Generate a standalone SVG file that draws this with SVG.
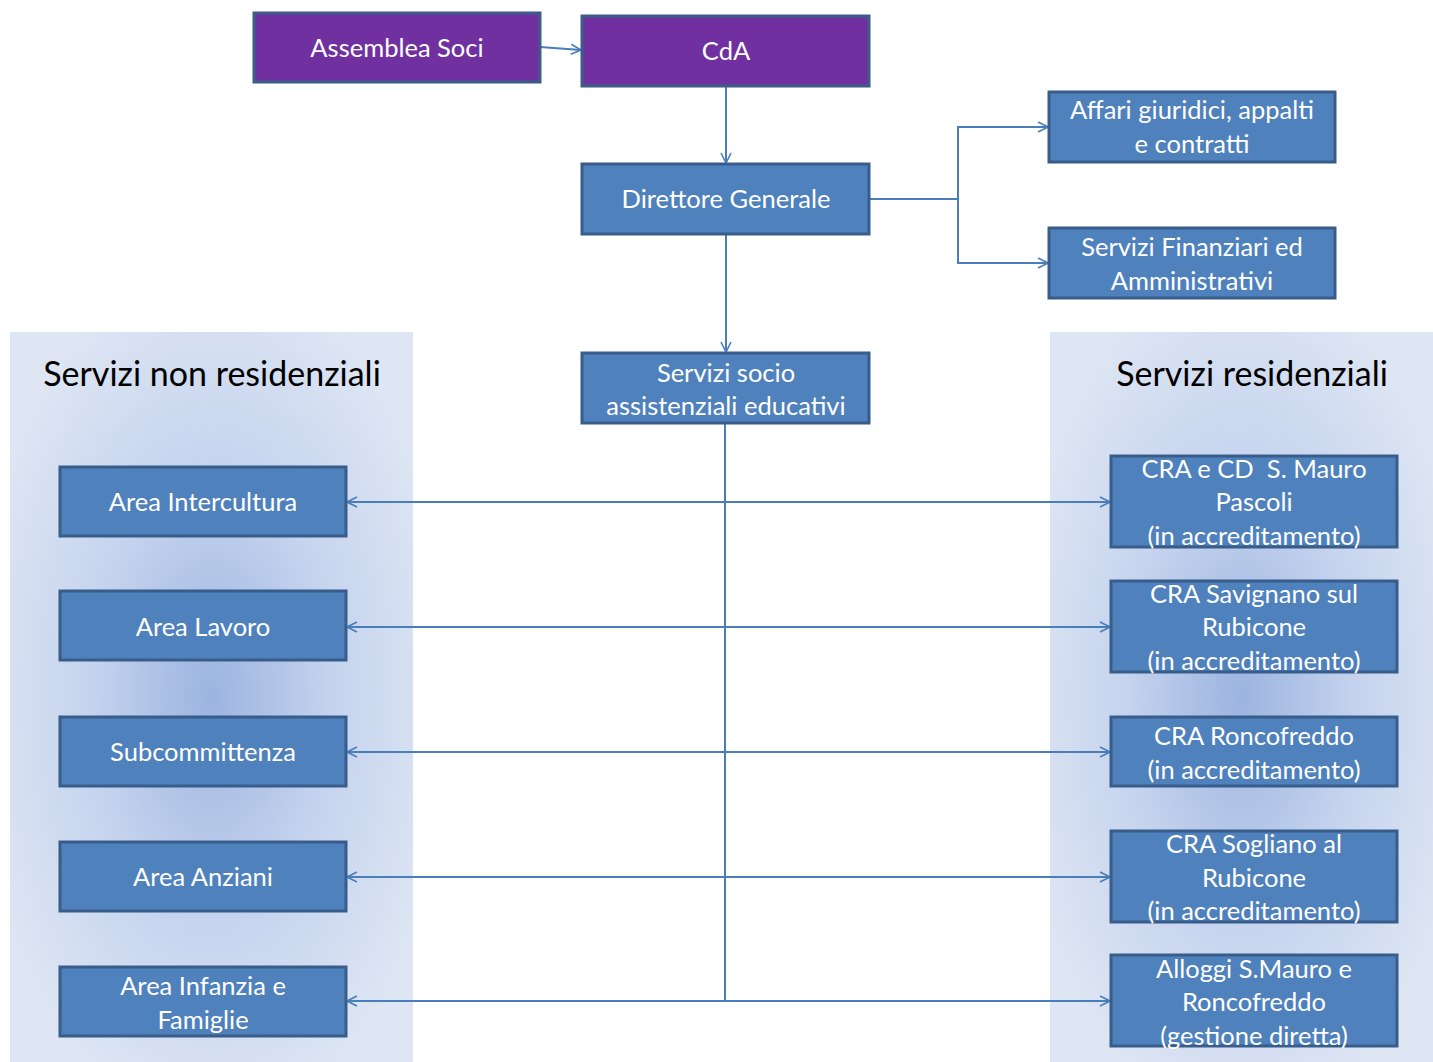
<svg xmlns="http://www.w3.org/2000/svg" width="1433" height="1062" viewBox="0 0 1433 1062">
<style>
.p{fill:#7030a0;stroke:#3c5d87;stroke-width:3}
.b{fill:#4f81bd;stroke:#385d8a;stroke-width:3}
.t{font-family:Lato,"Open Sans",sans-serif;font-size:25.5px;fill:#fff;text-anchor:middle;white-space:pre}
.h{font-family:Lato,"Open Sans",sans-serif;font-size:34px;fill:#000;text-anchor:middle}
.c{fill:none;stroke:#4a7ebb;stroke-width:2}
</style>
<defs>
<radialGradient id="g" cx="0.5" cy="0.5" r="0.6">
<stop offset="0" stop-color="#9cb4e0"/>
<stop offset="0.5" stop-color="#c5d3ee"/>
<stop offset="1" stop-color="#dee6f3"/>
</radialGradient>
<marker id="a" viewBox="0 0 12 12" refX="11" refY="6" markerWidth="12" markerHeight="12" markerUnits="userSpaceOnUse" orient="auto-start-reverse">
<path d="M1,1 L11,6 L1,11" fill="none" stroke="#4a7ebb" stroke-width="1.6"/>
</marker>
</defs>
<rect x="10" y="332" width="403" height="730" fill="url(#g)"/>
<rect x="1050" y="332" width="383" height="730" fill="url(#g)"/>
<text class="h" x="212" y="386">Servizi non residenziali</text>
<text class="h" x="1252" y="386">Servizi residenziali</text>
<g id="connectors">
<path class="c" d="M540,47 L581,50" marker-end="url(#a)"/>
<path class="c" d="M726,86 L726,163" marker-end="url(#a)"/>
<path class="c" d="M869,199 L958,199 L958,127 L1048,127" marker-end="url(#a)"/>
<path class="c" d="M958,199 L958,263 L1048,263" marker-end="url(#a)"/>
<path class="c" d="M726,234 L726,352" marker-end="url(#a)"/>
<path class="c" d="M725,423 L725,1001"/>
<path class="c" d="M347,502 L1110,502" marker-start="url(#a)" marker-end="url(#a)"/>
<path class="c" d="M347,627 L1110,627" marker-start="url(#a)" marker-end="url(#a)"/>
<path class="c" d="M347,752 L1110,752" marker-start="url(#a)" marker-end="url(#a)"/>
<path class="c" d="M347,877 L1110,877" marker-start="url(#a)" marker-end="url(#a)"/>
<path class="c" d="M347,1001 L1110,1001" marker-start="url(#a)" marker-end="url(#a)"/>
</g>
<g id="assemblea"><rect class="p" x="254" y="13" width="286" height="69"/><text class="t" x="397" y="57">Assemblea Soci</text></g>
<g id="cda"><rect class="p" x="582" y="16" width="287" height="70"/><text class="t" x="726" y="60">CdA</text></g>
<g id="direttore"><rect class="b" x="582" y="164" width="287" height="70"/><text class="t" x="726" y="208">Direttore Generale</text></g>
<g id="affari"><rect class="b" x="1049" y="92" width="286" height="70"/><text class="t" x="1192" y="119">Affari giuridici, appalti</text><text class="t" x="1192" y="153">e contratti</text></g>
<g id="finanziari"><rect class="b" x="1049" y="228" width="286" height="70"/><text class="t" x="1192" y="256">Servizi Finanziari ed</text><text class="t" x="1192" y="290">Amministrativi</text></g>
<g id="socio"><rect class="b" x="582" y="353" width="287" height="70"/><text class="t" x="726" y="382">Servizi socio</text><text class="t" x="726" y="415">assistenziali educativi</text></g>
<g id="intercultura"><rect class="b" x="60" y="467" width="286" height="69"/><text class="t" x="203" y="511">Area Intercultura</text></g>
<g id="lavoro"><rect class="b" x="60" y="591" width="286" height="69"/><text class="t" x="203" y="636">Area Lavoro</text></g>
<g id="subcommittenza"><rect class="b" x="60" y="717" width="286" height="69"/><text class="t" x="203" y="761">Subcommittenza</text></g>
<g id="anziani"><rect class="b" x="60" y="842" width="286" height="69"/><text class="t" x="203" y="886">Area Anziani</text></g>
<g id="infanzia"><rect class="b" x="60" y="967" width="286" height="69"/><text class="t" x="203" y="995">Area Infanzia e</text><text class="t" x="203" y="1029">Famiglie</text></g>
<g id="cra-smauro"><rect class="b" x="1111" y="456" width="286" height="91"/><text class="t" x="1254" y="478">CRA e CD  S. Mauro</text><text class="t" x="1254" y="511">Pascoli</text><text class="t" x="1254" y="545">(in accreditamento)</text></g>
<g id="cra-savignano"><rect class="b" x="1111" y="581" width="286" height="91"/><text class="t" x="1254" y="603">CRA Savignano sul</text><text class="t" x="1254" y="636">Rubicone</text><text class="t" x="1254" y="670">(in accreditamento)</text></g>
<g id="cra-roncofreddo"><rect class="b" x="1111" y="717" width="286" height="69"/><text class="t" x="1254" y="745">CRA Roncofreddo</text><text class="t" x="1254" y="779">(in accreditamento)</text></g>
<g id="cra-sogliano"><rect class="b" x="1111" y="831" width="286" height="91"/><text class="t" x="1254" y="853">CRA Sogliano al</text><text class="t" x="1254" y="887">Rubicone</text><text class="t" x="1254" y="920">(in accreditamento)</text></g>
<g id="alloggi"><rect class="b" x="1111" y="955" width="286" height="91"/><text class="t" x="1254" y="978">Alloggi S.Mauro e</text><text class="t" x="1254" y="1011">Roncofreddo</text><text class="t" x="1254" y="1045">(gestione diretta)</text></g>
</svg>
